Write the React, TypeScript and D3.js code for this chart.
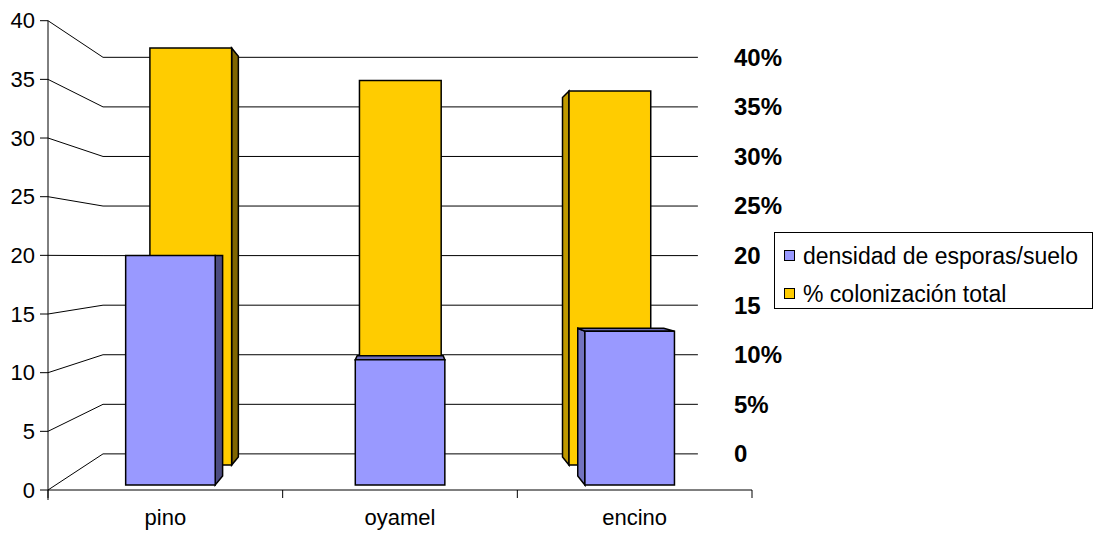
import React from "react";
import * as d3 from "d3";

// Chart data
const categories = ["pino", "oyamel", "encino"];
const densidadEsporas = [20, 10.9, 13.4];
const colonizacionTotal = [39.8, 36.7, 35.7];
const seriesNames = ["densidad de esporas/suelo", "% colonización total"];
const leftTicks = [0, 5, 10, 15, 20, 25, 30, 35, 40];
const rightTickLabels = ["0", "5%", "10%", "15", "20", "25%", "30%", "35%", "40%"];

// Layout
const W = 1095;
const H = 533;
const FONT = "'Liberation Sans', Arial, sans-serif";
const VP: [number, number] = [403, 257]; // perspective vanishing point
const FLOOR_BACK = 0.845; // scale of the back wall relative to the front plane
const ROW_FRONT: [number, number] = [0.9785, 0.94];
const ROW_BACK: [number, number] = [0.893, 0.858];

const x = d3.scaleBand<string>().domain(categories).range([48, 752]).paddingInner(0.61).paddingOuter(0.305);
const y = d3.scaleLinear().domain([0, 40]).range([490, 20.7]);

const P = (px: number, py: number, s: number): [number, number] => [
  VP[0] + (px - VP[0]) * s,
  VP[1] + (py - VP[1]) * s,
];

const poly = (pts: [number, number][]) => pts.map((p) => p.join(",")).join(" ");

type Palette = { front: string; right: string; left: string; top: string };
const PURPLE: Palette = { front: "#9999FF", right: "#4C4C80", left: "#7373BF", top: "#6F6FBA" };
const YELLOW: Palette = { front: "#FFCC00", right: "#806600", left: "#BF9900", top: "#BF9900" };

function Box({ cat, value, depth, pal }: { cat: string; value: number; depth: [number, number]; pal: Palette }) {
  const x0 = x(cat)!;
  const x1 = x0 + x.bandwidth();
  const yb = y(0);
  const yt = y(value);
  const [sF, sB] = depth;
  const faces: { pts: [number, number][]; fill: string }[] = [];
  if (x1 < VP[0])
    faces.push({ pts: [P(x1, yt, sF), P(x1, yt, sB), P(x1, yb, sB), P(x1, yb, sF)], fill: pal.right });
  if (x0 > VP[0])
    faces.push({ pts: [P(x0, yt, sF), P(x0, yt, sB), P(x0, yb, sB), P(x0, yb, sF)], fill: pal.left });
  if (yt > VP[1])
    faces.push({ pts: [P(x0, yt, sF), P(x1, yt, sF), P(x1, yt, sB), P(x0, yt, sB)], fill: pal.top });
  faces.push({ pts: [P(x0, yt, sF), P(x1, yt, sF), P(x1, yb, sF), P(x0, yb, sF)], fill: pal.front });
  return (
    <g>
      {faces.map((f, i) => (
        <polygon key={i} points={poly(f.pts)} fill={f.fill} stroke="#000" strokeWidth={1.5} strokeLinejoin="miter" />
      ))}
    </g>
  );
}

export default function App() {
  const left = 48;
  const right = 752;
  const bottom = y(0);
  const boundaries = d3.range(categories.length + 1).map((i) => left + ((right - left) * i) / categories.length);

  return (
    <svg
      width={W}
      height={H}
      viewBox={`0 0 ${W} ${H}`}
      style={{ position: "absolute", left: 0, top: 0, background: "#fff" }}
    >
      <rect x={0} y={0} width={W} height={H} fill="#fff" />

      {/* gridlines: side diagonal then back wall */}
      {leftTicks.map((t) => {
        const a = P(left, y(t), FLOOR_BACK);
        const b = P(right, y(t), FLOOR_BACK);
        return (
          <polyline
            key={t}
            points={poly([[left, y(t)], a, b])}
            fill="none"
            stroke="#000"
            strokeWidth={1}
          />
        );
      })}

      {/* axes */}
      <line x1={left} y1={y(40)} x2={left} y2={bottom + 10} stroke="#000" strokeWidth={1} />
      <line x1={left} y1={bottom} x2={right} y2={bottom} stroke="#000" strokeWidth={1} />
      {boundaries.map((bx, i) => (
        <line key={i} x1={bx} y1={bottom} x2={bx} y2={bottom + 8} stroke="#000" strokeWidth={1} />
      ))}
      {leftTicks.map((t) => (
        <g key={t}>
          <line x1={left - 8} y1={y(t)} x2={left} y2={y(t)} stroke="#000" strokeWidth={1} />
          <text x={35} y={y(t)} dy="0.35em" textAnchor="end" fontFamily={FONT} fontSize={22} fill="#000">
            {t}
          </text>
        </g>
      ))}
      {categories.map((c) => (
        <text
          key={c}
          x={x(c)! + x.bandwidth() / 2}
          y={525}
          textAnchor="middle"
          fontFamily={FONT}
          fontSize={22}
          fill="#000"
        >
          {c}
        </text>
      ))}

      {/* right-hand labels on the back wall */}
      {rightTickLabels.map((lab, i) => (
        <text
          key={lab}
          x={734}
          y={P(right, y(leftTicks[i]), FLOOR_BACK)[1]}
          dy="0.35em"
          fontFamily={FONT}
          fontWeight="bold"
          fontSize={24}
          fill="#000"
        >
          {lab}
        </text>
      ))}

      {/* back row: % colonización total */}
      {categories.map((c, i) => (
        <Box key={"c" + c} cat={c} value={colonizacionTotal[i]} depth={ROW_BACK} pal={YELLOW} />
      ))}
      {/* front row: densidad de esporas */}
      {categories.map((c, i) => (
        <Box key={"d" + c} cat={c} value={densidadEsporas[i]} depth={ROW_FRONT} pal={PURPLE} />
      ))}

      {/* legend */}
      <g>
        <rect x={774.5} y={232.5} width={318} height={76} fill="#fff" stroke="#000" strokeWidth={1} />
        {seriesNames.map((name, i) => (
          <g key={name}>
            <rect
              x={784.5}
              y={250.5 + i * 38}
              width={10}
              height={10}
              fill={i === 0 ? PURPLE.front : YELLOW.front}
              stroke="#000"
              strokeWidth={1}
            />
            <text x={803} y={264 + i * 38} fontFamily={FONT} fontSize={23} fill="#000">
              {name}
            </text>
          </g>
        ))}
      </g>
    </svg>
  );
}
